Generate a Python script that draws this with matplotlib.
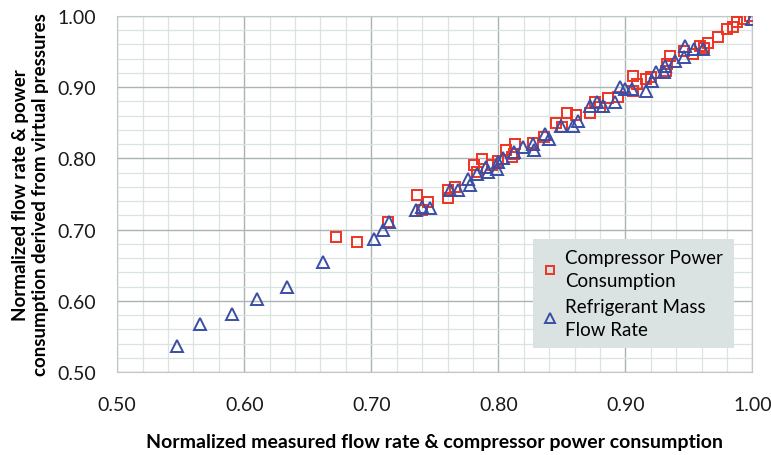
#!/usr/bin/env python3
# Normalized flow rate / power consumption scatter
import matplotlib
matplotlib.use("Agg")
import matplotlib.pyplot as plt
from matplotlib.ticker import MultipleLocator, FormatStrFormatter

# Compressor power consumption (measured, virtual)
power_x = [0.672, 0.689, 0.713, 0.736, 0.745, 0.760, 0.760, 0.766, 0.781, 0.787,
           0.783, 0.795, 0.806, 0.813, 0.811, 0.827, 0.836, 0.845, 0.850, 0.854,
           0.861, 0.872, 0.876, 0.886, 0.880, 0.894, 0.906, 0.909, 0.916, 0.906,
           0.932, 0.935, 0.946, 0.953, 0.959, 0.965, 0.973, 0.980, 0.985, 0.988,
           0.993, 0.998, 0.933, 0.812, 0.740, 0.800, 0.920, 0.962]
power_y = [0.690, 0.682, 0.710, 0.748, 0.739, 0.745, 0.755, 0.760, 0.791, 0.799,
           0.781, 0.790, 0.811, 0.820, 0.802, 0.822, 0.830, 0.849, 0.844, 0.863,
           0.861, 0.863, 0.879, 0.885, 0.872, 0.886, 0.916, 0.905, 0.912, 0.895,
           0.923, 0.944, 0.951, 0.947, 0.958, 0.962, 0.970, 0.982, 0.985, 0.991,
           0.996, 1.000, 0.933, 0.806, 0.728, 0.796, 0.914, 0.955]

# Refrigerant mass flow rate (measured, virtual)
flow_x = [0.547, 0.565, 0.590, 0.610, 0.634, 0.662, 0.702, 0.709, 0.714, 0.735,
          0.740, 0.746, 0.768, 0.762, 0.776, 0.778, 0.783, 0.790, 0.792, 0.799,
          0.800, 0.804, 0.812, 0.819, 0.827, 0.828, 0.837, 0.840, 0.849, 0.859,
          0.863, 0.872, 0.878, 0.882, 0.892, 0.896, 0.900, 0.905, 0.916, 0.921,
          0.924, 0.930, 0.931, 0.939, 0.947, 0.946, 0.954, 0.961, 1.000]
flow_y = [0.537, 0.567, 0.582, 0.602, 0.620, 0.654, 0.687, 0.700, 0.711, 0.727,
          0.732, 0.730, 0.756, 0.755, 0.771, 0.763, 0.778, 0.788, 0.781, 0.785,
          0.795, 0.801, 0.809, 0.816, 0.820, 0.811, 0.834, 0.827, 0.846, 0.846,
          0.853, 0.874, 0.879, 0.874, 0.879, 0.900, 0.898, 0.898, 0.895, 0.909,
          0.921, 0.921, 0.930, 0.937, 0.958, 0.942, 0.954, 0.954, 0.995]

plt.rcParams['font.family'] = ['Lato', 'DejaVu Sans']

fig = plt.figure(figsize=(7.71, 4.56), dpi=100)
ax = fig.add_axes([0.152, 0.182, 0.824, 0.781])

ax.plot(power_x, power_y, 's', ms=7.5, mfc='none', mec='#ee3322', mew=1.4,
        label='Compressor Power\nConsumption', zorder=3)
ax.plot(flow_x, flow_y, '^', ms=8.5, mfc='none', mec='#3a4ea6', mew=1.4,
        label='Refrigerant Mass\nFlow Rate', zorder=4)

ax.set_xlim(0.5, 1.0)
ax.set_ylim(0.5, 1.0)
ax.xaxis.set_major_locator(MultipleLocator(0.1))
ax.yaxis.set_major_locator(MultipleLocator(0.1))
ax.xaxis.set_minor_locator(MultipleLocator(0.02))
ax.yaxis.set_minor_locator(MultipleLocator(0.02))
ax.xaxis.set_major_formatter(FormatStrFormatter('%.2f'))
ax.yaxis.set_major_formatter(FormatStrFormatter('%.2f'))
ax.grid(which='major', color='#aab4b4', lw=1.0)
ax.grid(which='minor', color='#dae2e2', lw=0.9)
ax.set_axisbelow(True)
ax.tick_params(which='both', length=0, labelsize=14, colors='#1a1a1a')
ax.tick_params(axis='x', pad=17)
ax.tick_params(axis='y', pad=15)
for s in ax.spines.values():
    s.set_color('#c0c8c8')

ax.set_xlabel('Normalized measured flow rate & compressor power consumption',
              fontsize=14, fontweight='bold', labelpad=15)
ax.set_ylabel('Normalized flow rate & power\nconsumption derived from virtual pressures',
              fontsize=13.5, fontweight='bold', labelpad=6)

leg = ax.legend(loc='lower right', bbox_to_anchor=(0.985, 0.04), fontsize=13.5,
                frameon=True, fancybox=False, handlelength=0.8, handletextpad=0.4,
                borderpad=0.55, labelspacing=0.45, markerscale=0.85)
for t in leg.get_texts():
    t.set_linespacing(1.45)
leg.get_frame().set_facecolor('#dbe2e2')
leg.get_frame().set_edgecolor('none')
leg.get_frame().set_alpha(1)

fig.savefig('out.png', dpi=100)
